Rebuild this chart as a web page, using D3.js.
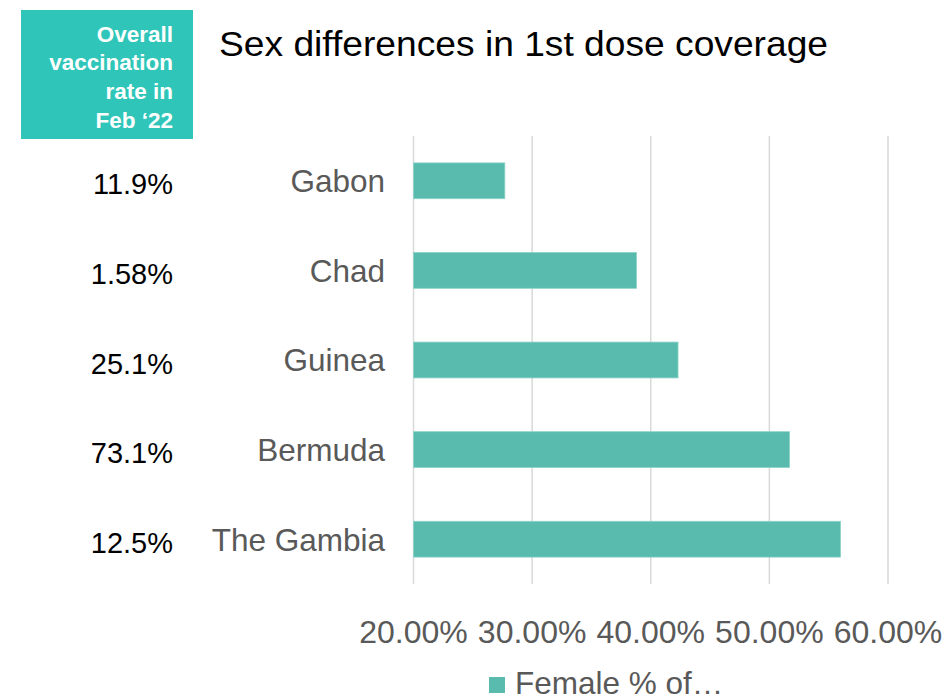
<!DOCTYPE html>
<html>
<head>
<meta charset="utf-8">
<script src="https://cdn.jsdelivr.net/npm/d3@7"></script>
<style>
  body { margin: 0; background: #fff; }
  text { font-family: "Liberation Sans", Arial, sans-serif; }
</style>
</head>
<body>
<div id="chart"></div>
<script>
// values
var countries = ["Gabon", "Chad", "Guinea", "Bermuda", "The Gambia"];
var femaleShare = [0.277, 0.388, 0.423, 0.517, 0.560];
var overallRate = ["11.9%", "1.58%", "25.1%", "73.1%", "12.5%"];
var xTicks = [0.2, 0.3, 0.4, 0.5, 0.6];
var boxLines = ["Overall", "vaccination", "rate in", "Feb \u201822"];

var width = 947, height = 696;
var plot = {left: 413.5, right: 888, top: 136, bottom: 584};

var svg = d3.select("#chart")
  .append("svg")
    .attr("width", width)
    .attr("height", height);

var x = d3.scaleLinear()
  .domain([0.2, 0.6])
  .range([plot.left, plot.right]);

var y = d3.scaleBand()
  .domain(countries)
  .range([plot.top, plot.bottom])
  .paddingInner(0.6)
  .paddingOuter(0.3);

// gridlines
svg.append("g")
  .selectAll("line")
  .data(xTicks)
  .enter().append("line")
    .attr("x1", function(d) { return x(d); })
    .attr("x2", function(d) { return x(d); })
    .attr("y1", plot.top)
    .attr("y2", plot.bottom)
    .attr("stroke", "#d9d9d9")
    .attr("stroke-width", 1.5);

// bars
svg.append("g")
  .selectAll("rect")
  .data(countries)
  .enter().append("rect")
    .attr("x", x(0.2))
    .attr("y", function(d) { return y(d); })
    .attr("width", function(d, i) { return x(femaleShare[i]) - x(0.2); })
    .attr("height", y.bandwidth())
    .attr("fill", "#58bbad")
    .attr("stroke", "#8fd3c8")
    .attr("stroke-width", 0.8);

// x tick labels (no axis line)
svg.append("g")
  .selectAll("text")
  .data(xTicks)
  .enter().append("text")
    .attr("x", function(d) { return x(d); })
    .attr("y", 643)
    .attr("text-anchor", "middle")
    .attr("font-size", 32)
    .attr("fill", "#595959")
    .text(d3.format(".2%"));

// country labels
svg.append("g")
  .selectAll("text")
  .data(countries)
  .enter().append("text")
    .attr("x", 385)
    .attr("y", function(d) { return y(d) + y.bandwidth() / 2; })
    .attr("dy", "0.36em")
    .attr("text-anchor", "end")
    .attr("font-size", 31.5)
    .attr("fill", "#595959")
    .text(function(d) { return d; });

// overall vaccination rate column
svg.append("g")
  .selectAll("text")
  .data(overallRate)
  .enter().append("text")
    .attr("x", 173)
    .attr("y", function(d, i) { return y(countries[i]) + y.bandwidth() / 2 + 13.5; })
    .attr("text-anchor", "end")
    .attr("font-size", 29)
    .attr("fill", "#000")
    .text(function(d) { return d; });

// teal header box
svg.append("rect")
  .attr("x", 21)
  .attr("y", 10)
  .attr("width", 172)
  .attr("height", 129)
  .attr("fill", "#2fc6b9");

svg.append("g")
  .selectAll("text")
  .data(boxLines)
  .enter().append("text")
    .attr("x", 173)
    .attr("y", function(d, i) { return 41.5 + i * 28.7; })
    .attr("text-anchor", "end")
    .attr("font-size", 22.5)
    .attr("font-weight", "bold")
    .attr("fill", "#fff")
    .text(function(d) { return d; });

// title
svg.append("text")
  .attr("x", 219)
  .attr("y", 56)
  .attr("font-size", 35)
  .attr("fill", "#000")
  .attr("textLength", 609)
  .attr("lengthAdjust", "spacingAndGlyphs")
  .text("Sex differences in 1st dose coverage");

// legend
var legend = svg.append("g")
  .attr("transform", "translate(489,677)");

legend.append("rect")
  .attr("width", 16)
  .attr("height", 16)
  .attr("fill", "#58bbad");

legend.append("text")
  .attr("x", 26)
  .attr("y", 17)
  .attr("font-size", 31.5)
  .attr("fill", "#595959")
  .text("Female % of\u2026");
</script>
</body>
</html>
